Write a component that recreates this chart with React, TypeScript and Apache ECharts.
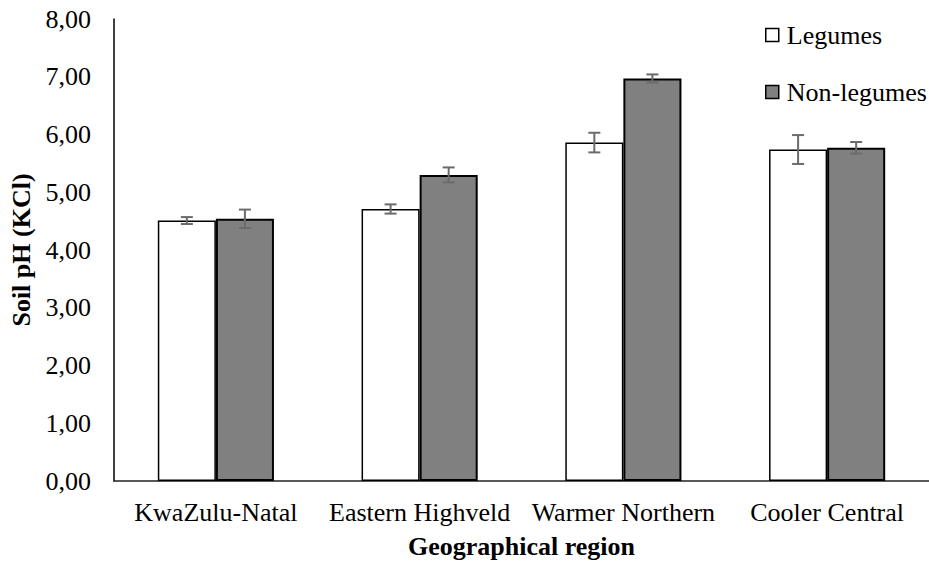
import React, { useEffect, useRef } from "react";
import * as echarts from "echarts";

const categories = ["KwaZulu-Natal", "Eastern Highveld", "Warmer Northern", "Cooler Central"];
const legumes = [4.51, 4.71, 5.86, 5.74];
const legumesErr = [0.06, 0.08, 0.17, 0.25];
const nonLegumes = [4.54, 5.3, 6.97, 5.77];
const nonLegumesErr = [0.16, 0.13, 0.07, 0.1];
const yTicks = { min: 0, max: 8, interval: 1 };

const FONT = "Liberation Serif";
const BAR_FRAC = 0.285;

function errorSeries(name: string, values: number[], errs: number[], side: number) {
  return {
    type: "custom",
    name: name + " err",
    z: 10,
    silent: true,
    data: values.map((v, i) => [i, v, errs[i]]),
    encode: { x: 0, y: 1 },
    renderItem: (params: any, api: any) => {
      const x = api.value(0);
      const y = api.value(1);
      const e = api.value(2);
      const band = api.size([1, 0])[0];
      const off = (side * band * BAR_FRAC) / 2;
      const hi = api.coord([x, y + e]);
      const lo = api.coord([x, y - e]);
      const cx = hi[0] + off;
      const cap = 6;
      const style = { stroke: "#6b6b6b", lineWidth: 2 };
      return {
        type: "group",
        children: [
          { type: "line", shape: { x1: cx, y1: hi[1], x2: cx, y2: lo[1] }, style },
          { type: "line", shape: { x1: cx - cap, y1: hi[1], x2: cx + cap, y2: hi[1] }, style },
          { type: "line", shape: { x1: cx - cap, y1: lo[1], x2: cx + cap, y2: lo[1] }, style },
        ],
      };
    },
  };
}

export default function App() {
  const ref = useRef<HTMLDivElement>(null);
  useEffect(() => {
    if (!ref.current) return;
    const chart = echarts.init(ref.current, undefined, { renderer: "svg" });
    chart.setOption({
      animation: false,
      backgroundColor: "#ffffff",
      textStyle: { fontFamily: FONT },
      grid: { left: 114, right: 0, top: 19, bottom: 82, containLabel: false },
      legend: {
        orient: "vertical",
        left: 765,
        top: 22,
        padding: 0,
        itemWidth: 13,
        itemHeight: 13,
        itemGap: 31,
        icon: "rect",
        textStyle: { fontFamily: FONT, fontSize: 26, color: "#000", padding: [0, 0, 0, 3] },
        data: [
          { name: "Legumes", itemStyle: { color: "#ffffff", borderColor: "#000", borderWidth: 1.5 } },
          { name: "Non-legumes", itemStyle: { color: "#808080", borderColor: "#000", borderWidth: 1.5 } },
        ],
      },
      xAxis: {
        type: "category",
        data: categories,
        name: "Geographical region",
        nameLocation: "middle",
        nameGap: 52,
        nameTextStyle: { fontFamily: FONT, fontSize: 26, fontWeight: "bold", color: "#000" },
        axisLine: { lineStyle: { color: "#222", width: 1.5 } },
        axisTick: { show: false },
        axisLabel: { fontFamily: FONT, fontSize: 26, color: "#000", margin: 18, interval: 0 },
        splitLine: { show: false },
      },
      yAxis: {
        type: "value",
        min: yTicks.min,
        max: yTicks.max,
        interval: yTicks.interval,
        name: "Soil pH (KCl)",
        nameLocation: "middle",
        nameGap: 75,
        nameRotate: 90,
        nameTextStyle: { fontFamily: FONT, fontSize: 26, fontWeight: "bold", color: "#000" },
        axisLine: { show: true, lineStyle: { color: "#000", width: 1.5 } },
        axisTick: { show: false },
        splitLine: { show: false },
        axisLabel: {
          fontFamily: FONT,
          fontSize: 26,
          color: "#000",
          margin: 23,
          formatter: (v: number) => v.toFixed(2).replace(".", ","),
        },
      },
      series: [
        {
          type: "bar",
          name: "Legumes",
          data: legumes,
          barWidth: BAR_FRAC * 100 + "%",
          barGap: "0%",
          itemStyle: { color: "#ffffff", borderColor: "#000", borderWidth: 1.5 },
        },
        {
          type: "bar",
          name: "Non-legumes",
          data: nonLegumes,
          barWidth: BAR_FRAC * 100 + "%",
          barGap: "0%",
          itemStyle: { color: "#808080", borderColor: "#000", borderWidth: 2 },
        },
        errorSeries("Legumes", legumes, legumesErr, -1),
        errorSeries("Non-legumes", nonLegumes, nonLegumesErr, 1),
      ],
    });
    return () => chart.dispose();
  }, []);
  return (
    <div
      ref={ref}
      style={{ position: "fixed", left: 0, top: 0, width: 929, height: 564 }}
    />
  );
}
